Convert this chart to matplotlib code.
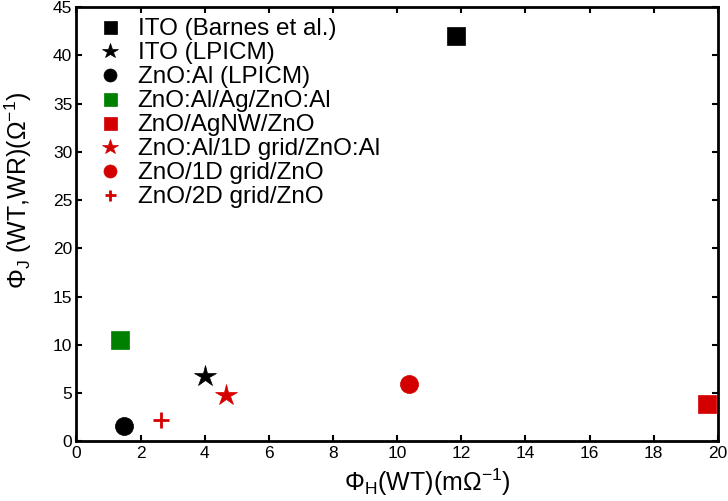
import matplotlib
matplotlib.use("Agg")
import matplotlib.pyplot as plt

plt.rcParams['font.family'] = ['Liberation Sans', 'DejaVu Sans']
plt.rcParams['mathtext.default'] = 'regular'

labels = ["ITO (Barnes et al.)", "ITO (LPICM)", "ZnO:Al (LPICM)",
          "ZnO:Al/Ag/ZnO:Al", "ZnO/AgNW/ZnO", "ZnO:Al/1D grid/ZnO:Al",
          "ZnO/1D grid/ZnO", "ZnO/2D grid/ZnO"]
phi_h = [11.85, 4.0, 1.47, 1.36, 19.65, 4.65, 10.37, 2.64]
phi_j = [42.0, 6.8, 1.6, 10.5, 3.85, 4.8, 5.95, 2.2]
markers = ['s', '*', 'o', 's', 's', '*', 'o', '+']
colors = ['#000000', '#000000', '#000000', '#008000', '#D40000', '#D40000', '#D40000', '#D40000']
sizes = [13, 16, 13, 13, 13, 16, 13, 11]

x_ticks = list(range(0, 21, 2))
y_ticks = list(range(0, 46, 5))

fig = plt.figure(figsize=(7.28, 5.01), dpi=100)
ax = fig.add_axes([0.105, 0.119, 0.881, 0.867])

for xv, yv, m, c, s, lab in zip(phi_h, phi_j, markers, colors, sizes, labels):
    ax.plot([xv], [yv], linestyle='none', marker=m, color=c, markersize=s,
            markeredgewidth=2.0 if m == '+' else 0.5, label=lab)

ax.set_xlim(0, 20)
ax.set_ylim(0, 45)
ax.set_xticks(x_ticks)
ax.set_yticks(y_ticks)
ax.tick_params(direction='in', length=4, width=1.5, top=True, right=True,
               labelsize=12.5, pad=3)
for sp in ax.spines.values():
    sp.set_linewidth(2)

ax.set_xlabel('Φ$_{H}$(WT)(mΩ$^{-1}$)', fontsize=18)
ax.set_ylabel('Φ$_{J}$ (WT,WR)(Ω$^{-1}$)', fontsize=18)
ax.xaxis.set_label_coords(0.547, -0.058)
ax.yaxis.set_label_coords(-0.066, 0.579)

ax.legend(loc='upper left', bbox_to_anchor=(0.033, 0.974), frameon=False,
          fontsize=17.5, markerscale=0.72, handlelength=1.0, handletextpad=0.65,
          labelspacing=0.08, borderaxespad=0, borderpad=0)

fig.savefig('out.png', dpi=100)
